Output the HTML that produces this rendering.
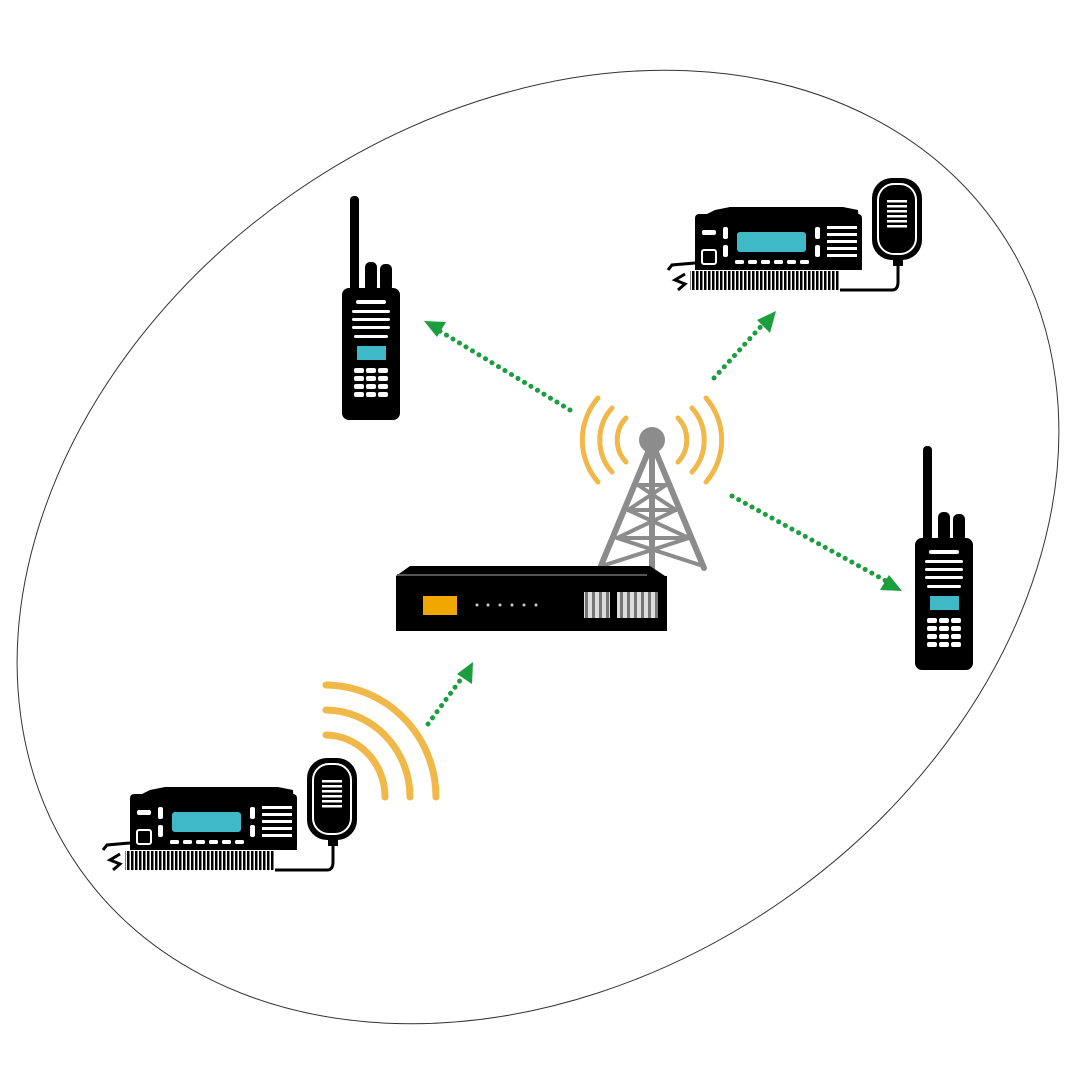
<!DOCTYPE html>
<html><head><meta charset="utf-8"><style>html,body{margin:0;padding:0;background:#fff;width:1080px;height:1080px;overflow:hidden}svg{display:block}</style></head>
<body>
<svg width="1080" height="1080" viewBox="0 0 1080 1080" xmlns="http://www.w3.org/2000/svg">
<defs>
<pattern id="fins" width="4" height="20" patternUnits="userSpaceOnUse"><rect width="2.5" height="20" fill="#000"/></pattern>
<pattern id="grill" width="7" height="26" patternUnits="userSpaceOnUse"><rect width="7" height="26" fill="#ddd"/><rect x="4" width="3" height="26" fill="#777"/></pattern>
<g id="hh">
  <rect x="20" y="6" width="9" height="96" rx="4" fill="#000"/>
  <rect x="35" y="72" width="12" height="30" rx="5" fill="#000"/>
  <rect x="50" y="74" width="12" height="28" rx="5" fill="#000"/>
  <rect x="12" y="98" width="58" height="132" rx="7" fill="#000"/>
  <g fill="#fff">
    <rect x="26" y="110" width="30" height="4" rx="2"/>
    <rect x="22" y="120" width="38" height="3" rx="1.5"/>
    <rect x="22" y="128" width="38" height="3" rx="1.5"/>
    <rect x="22" y="136" width="38" height="3" rx="1.5"/>
    <rect x="24" y="145" width="34" height="3" rx="1.5"/>
  </g>
  <rect x="27" y="156" width="29" height="14" fill="#3fb8c8"/>
  <g fill="#fff">
    <rect x="24" y="178" width="10" height="5" rx="2"/><rect x="36" y="178" width="10" height="5" rx="2"/><rect x="48" y="178" width="10" height="5" rx="2"/>
    <rect x="24" y="186" width="10" height="5" rx="2"/><rect x="36" y="186" width="10" height="5" rx="2"/><rect x="48" y="186" width="10" height="5" rx="2"/>
    <rect x="24" y="194" width="10" height="5" rx="2"/><rect x="36" y="194" width="10" height="5" rx="2"/><rect x="48" y="194" width="10" height="5" rx="2"/>
    <rect x="24" y="202" width="10" height="5" rx="2"/><rect x="36" y="202" width="10" height="5" rx="2"/><rect x="48" y="202" width="10" height="5" rx="2"/>
  </g>
</g>
<g id="mob">
  <path d="M55 40 L70 37 L183 37 L198 40 L202 100 L35 100 L35 50 Z" fill="#000"/>
  <rect x="35" y="44" width="167" height="56" rx="4" fill="#000"/>
  <g fill="#fff">
    <rect x="42" y="60" width="14" height="5" rx="2"/>
    <rect x="42" y="80" width="14" height="14" rx="2" fill="none" stroke="#fff" stroke-width="2"/>
    <rect x="63" y="57" width="5" height="12" rx="2"/><rect x="63" y="75" width="5" height="12" rx="2"/>
    <rect x="155" y="57" width="5" height="12" rx="2"/><rect x="155" y="75" width="5" height="12" rx="2"/>
    <rect x="167" y="56" width="30" height="3"/><rect x="167" y="63" width="30" height="3"/><rect x="167" y="70" width="30" height="3"/><rect x="167" y="77" width="30" height="3"/><rect x="167" y="84" width="30" height="3"/>
    <rect x="75" y="90" width="9" height="4" rx="1.5"/><rect x="88" y="90" width="9" height="4" rx="1.5"/><rect x="101" y="90" width="9" height="4" rx="1.5"/><rect x="114" y="90" width="9" height="4" rx="1.5"/><rect x="127" y="90" width="9" height="4" rx="1.5"/><rect x="140" y="90" width="9" height="4" rx="1.5"/>
  </g>
  <rect x="77" y="62" width="69" height="20" rx="3" fill="#3fb8c8"/>
  <rect x="30" y="101" width="150" height="19" fill="url(#fins)"/>
  <path d="M35 93 L12 95 L8 100 M25 104 L15 110 L25 114 L18 120" stroke="#000" stroke-width="3" fill="none"/>
  <path d="M180 120 L232 120 Q238 120 238 112 L238 92" stroke="#000" stroke-width="3" fill="none"/>
  <rect x="212" y="8" width="50" height="82" rx="20" fill="#000"/>
  <rect x="218" y="14" width="38" height="70" rx="16" fill="none" stroke="#fff" stroke-width="2"/>
  <g fill="#fff"><rect x="227" y="30" width="20" height="2.5"/><rect x="227" y="35" width="20" height="2.5"/><rect x="227" y="40" width="20" height="2.5"/><rect x="227" y="45" width="20" height="2.5"/><rect x="227" y="50" width="20" height="2.5"/><rect x="227" y="55" width="20" height="2.5"/></g>
  <rect x="233" y="88" width="10" height="8" fill="#000"/>
</g>
</defs>

<ellipse cx="538" cy="547" rx="560" ry="430" transform="rotate(-35 538 547)" fill="none" stroke="#333" stroke-width="1"/>

<use href="#hh" transform="translate(330,190)"/>
<use href="#hh" transform="translate(903,440)"/>
<use href="#mob" transform="translate(660,170)"/>
<use href="#mob" transform="translate(95,750)"/>

<g stroke="#1a9e3e" stroke-width="5" stroke-linecap="round" stroke-dasharray="0.1 7.5" fill="none">
  <path d="M570 410 L438 330"/>
  <path d="M714 378 L765 322"/>
  <path d="M732 496 L888 582"/>
  <path d="M428 724 L464 675"/>
</g>
<g fill="#1a9e3e">
  <polygon points="424,321 446,322 437,337"/>
  <polygon points="776,311 770,333 757,320"/>
  <polygon points="902,591 880,590 889,575"/>
  <polygon points="473,662 472,684 457,674"/>
</g>

<g stroke="#8c8c8c" stroke-width="6" fill="none" stroke-linecap="round">
  <path d="M649 450 L600 568 M655 450 L704 568 M652 452 L652 570"/>
  <path d="M638 485 L666 485 M628 510 L676 510 M617 538 L689 538 M638 485 L676 510 M666 485 L628 510 M628 510 L689 538 M676 510 L617 538 M617 538 L700 565 M689 538 L605 565" stroke-width="4"/>
</g>
<circle cx="652" cy="440" r="13" fill="#8c8c8c"/>
<g stroke="#f0b848" stroke-width="5" fill="none" stroke-linecap="round">
  <path d="M626 418 A32 32 0 0 0 626 462"/><path d="M612 408 A48 48 0 0 0 612 472"/><path d="M598 398 A64 64 0 0 0 598 482"/>
  <path d="M678 418 A32 32 0 0 1 678 462"/><path d="M692 408 A48 48 0 0 1 692 472"/><path d="M706 398 A64 64 0 0 1 706 482"/>
</g>

<path d="M410 566 L650 566 L665 576 L396 576 Z" fill="#000"/>
<rect x="396" y="576" width="271" height="55" fill="#000"/>
<rect x="397" y="574" width="250" height="2" fill="#555"/>
<rect x="423" y="596" width="34" height="19" fill="#f0a800"/>
<g fill="#ccc"><circle cx="477" cy="605" r="1.5"/><circle cx="488" cy="605" r="1.5"/><circle cx="500" cy="605" r="1.5"/><circle cx="512" cy="605" r="1.5"/><circle cx="524" cy="605" r="1.5"/><circle cx="536" cy="605" r="1.5"/></g>
<rect x="584" y="592" width="26" height="26" fill="url(#grill)"/>
<rect x="617" y="592" width="41" height="26" fill="url(#grill)"/>

<g stroke="#f0b848" stroke-width="7" fill="none" stroke-linecap="round">
  <path d="M326 685 A111 112 0 0 1 436 797"/>
  <path d="M326 710 A85 87 0 0 1 410 797"/>
  <path d="M326 735 A60 62 0 0 1 385 797"/>
</g>
</svg>
</body></html>
